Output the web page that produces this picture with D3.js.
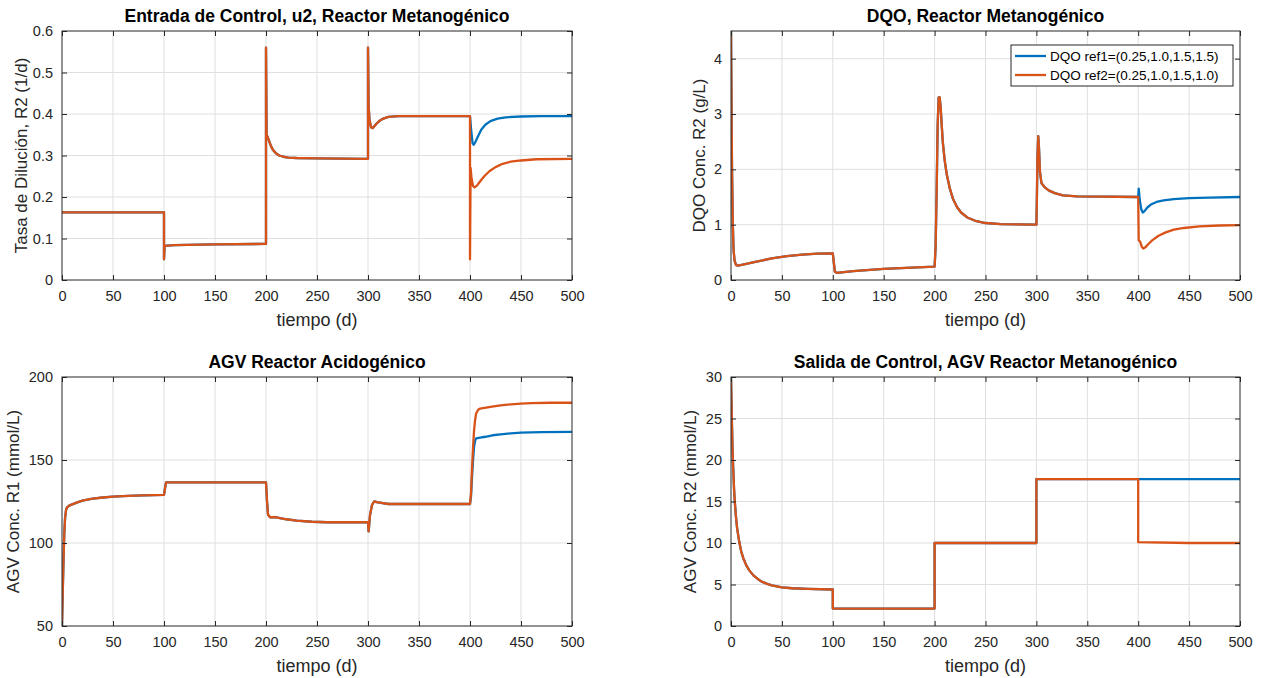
<!DOCTYPE html>
<html>
<head>
<meta charset="utf-8">
<script src="https://cdn.jsdelivr.net/npm/d3@7"></script>
<style>
  body { margin: 0; background: #fff; }
  svg text { font-family: "Liberation Sans", Arial, sans-serif; }
  .tick text { fill: #262626; font-size: 14.5px; }
</style>
</head>
<body>
<div id="chart"></div>
<script>
// *** time samples are [tiempo (d), value]; both runs coincide until t = 400
var xTicks = [0, 50, 100, 150, 200, 250, 300, 350, 400, 450, 500];

// Entrada de Control u2 (1/d)
var u2Common = [[0,0.163],[100,0.163],[100,0.05],[100.6,0.082],[110,0.084],[150,0.086],[200,0.087],
  [200,0.56],[200.6,0.35],[201.5,0.345],[203,0.335],[205,0.322],[207,0.313],[210,0.305],[213,0.3],
  [217,0.297],[222,0.295],[230,0.294],[250,0.293],[300,0.292],
  [300,0.56],[300.6,0.42],[301.5,0.385],[303,0.368],[304.5,0.366],[306,0.37],[308,0.376],[311,0.383],
  [315,0.389],[320,0.393],[330,0.395],[400,0.395]];
var u2Ref1 = [[400,0.395],[401,0.365],[402.5,0.33],[403.5,0.326],[405,0.331],[408,0.347],[411,0.362],
  [415,0.374],[420,0.383],[427,0.389],[435,0.392],[450,0.394],[470,0.395],[500,0.395]];
var u2Ref2 = [[400,0.395],[400,0.05],[400.6,0.27],[401.5,0.245],[403,0.226],[404.5,0.223],[407,0.228],
  [410,0.238],[414,0.25],[419,0.262],[425,0.272],[432,0.28],[440,0.285],[450,0.288],[465,0.291],[500,0.292]];
var u2Ticks = [0, 0.1, 0.2, 0.3, 0.4, 0.5, 0.6];

// DQO reactor metanogénico (g/L)
var dqoCommon = [[0,4.5],[0.5,3.2],[1,2],[1.8,1],[2.5,0.55],[3.5,0.35],[5,0.27],[7,0.26],[15,0.29],
  [25,0.33],[40,0.39],[55,0.43],[70,0.46],[85,0.475],[100,0.48],
  [102,0.15],[104,0.13],[120,0.16],[150,0.2],[200,0.24],[201,0.6],[202,1.6],[203,2.8],[204,3.3],[205,3.3],
  [206,3.1],[207,2.8],[208,2.5],[210,2.15],[212,1.9],[215,1.65],[218,1.47],[222,1.32],[226,1.22],
  [232,1.13],[240,1.07],[250,1.03],[265,1.01],[300,1.0],
  [300.5,1.5],[301,2.2],[301.8,2.6],[302.5,2.4],[303.5,1.95],[305,1.75],[308,1.68],[312,1.62],
  [318,1.57],[326,1.53],[340,1.51],[400,1.5]];
var dqoRef1 = [[400,1.5],[400.5,1.65],[401.5,1.45],[403,1.28],[404.5,1.22],[406,1.24],[409,1.31],
  [413,1.37],[418,1.41],[425,1.44],[435,1.46],[450,1.48],[470,1.49],[500,1.5]];
var dqoRef2 = [[400,1.5],[400.5,0.72],[402,0.69],[403.5,0.6],[405,0.57],[407,0.59],[410,0.65],
  [414,0.72],[420,0.8],[427,0.86],[435,0.91],[445,0.94],[460,0.97],[480,0.985],[500,0.99]];
var dqoTicks = [0, 1, 2, 3, 4];

// AGV reactor acidogénico (mmol/L)
var agv1Common = [[0,50],[0.7,70],[1.5,90],[2.2,105],[3,115],[4,120],[5,121.5],[7,122.5],[10,123.3],
  [15,124.5],[20,125.5],[30,126.7],[40,127.4],[50,127.9],[65,128.4],[80,128.7],[100,129],
  [101,133],[102,136.5],[150,136.5],[200,136.5],[201,125],[202,117],[204,115.5],[210,115.5],[220,114.3],
  [230,113.5],[245,112.8],[260,112.5],[300,112.5],[300.6,107],[302,117],[304,123],[306,125],[310,124.5],
  [320,123.5],[400,123.5]];
var agv1Ref1 = [[400,123.5],[401,128],[402,140],[403,150],[404,158],[405,161.5],[406,163],[410,163.5],
  [415,164],[422,164.9],[430,165.5],[440,166.1],[450,166.5],[470,166.8],[500,167]];
var agv1Ref2 = [[400,123.5],[401,130],[402,145],[403,158],[404,168],[405,174],[406,178],[408,180.3],
  [410,181],[420,182],[430,182.9],[440,183.5],[450,184],[460,184.3],[480,184.5],[500,184.5]];
var agv1Ticks = [50, 100, 150, 200];

// AGV reactor metanogénico (mmol/L)
var agv2Common = [[0,30],[0.5,27],[1,24],[1.5,21.5],[2,19.5],[3,16.5],[4,14.5],[5,13],[6,11.8],[8,10.2],
  [10,9],[12,8.2],[15,7.3],[18,6.7],[22,6.1],[26,5.7],[30,5.35],[35,5.1],[40,4.9],[50,4.65],[60,4.55],
  [75,4.48],[100,4.4],[100,2.1],[150,2.1],[200,2.1],[200,10],[300,10],[300,17.7],[400,17.7]];
var agv2Ref1 = [[400,17.7],[500,17.7]];
var agv2Ref2 = [[400,17.7],[400,10.1],[450,10],[500,10]];
var agv2Ticks = [0, 5, 10, 15, 20, 25, 30];

var legendLabels = ["DQO ref1=(0.25,1.0,1.5,1.5)", "DQO ref2=(0.25,1.0,1.5,1.0)"];
var colors = ["#0072BD", "#D95319"];

var svg = d3.select("#chart").append("svg")
    .attr("width", 1264)
    .attr("height", 678);

svg.append("defs");

function panel(opt) {
    var w = opt.x1 - opt.x0, h = opt.y1 - opt.y0;
    var g = svg.append("g").attr("transform", "translate(" + opt.x0 + "," + opt.y0 + ")");

    var x = d3.scaleLinear().domain([0, 500]).range([0, w]);
    var y = d3.scaleLinear().domain(opt.ydom).range([h, 0]);

    // grid
    g.append("g").selectAll("line").data(xTicks.slice(1, -1)).enter().append("line")
        .attr("x1", function(d) { return x(d); }).attr("x2", function(d) { return x(d); })
        .attr("y1", 0).attr("y2", h)
        .attr("stroke", "#dfdfdf").attr("stroke-width", 1);
    g.append("g").selectAll("line").data(opt.yticks.filter(function(d) { return d > opt.ydom[0] && d < opt.ydom[1]; }))
        .enter().append("line")
        .attr("x1", 0).attr("x2", w)
        .attr("y1", function(d) { return y(d); }).attr("y2", function(d) { return y(d); })
        .attr("stroke", "#dfdfdf").attr("stroke-width", 1);

    var clipId = "clip" + opt.id;
    svg.select("defs").append("clipPath").attr("id", clipId)
        .append("rect").attr("width", w).attr("height", h);

    var line = d3.line().x(function(d) { return x(d[0]); }).y(function(d) { return y(d[1]); });
    var lines = g.append("g").attr("clip-path", "url(#" + clipId + ")");
    [opt.ref1, opt.ref2].forEach(function(tail, i) {
        lines.append("path")
            .datum(opt.common.concat(tail.slice(1)))
            .attr("d", line)
            .attr("fill", "none")
            .attr("stroke", colors[i])
            .attr("stroke-width", 2.3)
            .attr("stroke-linejoin", "round");
    });

    // axes, ticks inward on all four sides
    var fmt = function(d) { return String(d); };
    var xAxis = d3.axisBottom(x).tickValues(xTicks).tickSizeInner(-5).tickSizeOuter(0).tickPadding(11).tickFormat(fmt);
    var yAxis = d3.axisLeft(y).tickValues(opt.yticks).tickSizeInner(-5).tickSizeOuter(0).tickPadding(9).tickFormat(fmt);
    var gx = g.append("g").attr("transform", "translate(0," + h + ")").call(xAxis);
    var gy = g.append("g").call(yAxis);
    var gxt = g.append("g").call(d3.axisTop(x).tickValues(xTicks).tickSizeInner(-5).tickSizeOuter(0).tickFormat(""));
    var gyr = g.append("g").attr("transform", "translate(" + w + ",0)")
        .call(d3.axisRight(y).tickValues(opt.yticks).tickSizeInner(-5).tickSizeOuter(0).tickFormat(""));
    [gx, gy, gxt, gyr].forEach(function(a) {
        a.select(".domain").remove();
        a.selectAll(".tick line").attr("stroke", "#262626");
    });
    g.append("rect").attr("width", w).attr("height", h)
        .attr("fill", "none").attr("stroke", "#262626").attr("stroke-width", 1);

    g.append("text")
        .attr("x", w / 2).attr("y", -9)
        .attr("text-anchor", "middle")
        .style("font-size", "17.5px").style("font-weight", "bold").attr("fill", "#000")
        .text(opt.title);
    g.append("text")
        .attr("x", w / 2).attr("y", h + 46)
        .attr("text-anchor", "middle")
        .style("font-size", "18px").attr("fill", "#262626")
        .text("tiempo (d)");
    g.append("text")
        .attr("transform", "translate(" + opt.ylabX + "," + (h / 2) + ") rotate(-90)")
        .attr("text-anchor", "middle")
        .style("font-size", "17px").attr("fill", "#262626")
        .text(opt.ylabel);
    return g;
}

panel({id: 1, x0: 62, x1: 572, y0: 31, y1: 280, ydom: [0, 0.6], yticks: u2Ticks,
    common: u2Common, ref1: u2Ref1, ref2: u2Ref2, ylabX: -35,
    title: "Entrada de Control, u2, Reactor Metanogénico", ylabel: "Tasa de Dilución, R2 (1/d)"});

var dqoPanel = panel({id: 2, x0: 731, x1: 1240, y0: 31, y1: 280, ydom: [0, 4.5], yticks: dqoTicks,
    common: dqoCommon, ref1: dqoRef1, ref2: dqoRef2, ylabX: -26,
    title: "DQO, Reactor Metanogénico", ylabel: "DQO Conc. R2 (g/L)"});

panel({id: 3, x0: 62, x1: 572, y0: 377, y1: 626, ydom: [50, 200], yticks: agv1Ticks,
    common: agv1Common, ref1: agv1Ref1, ref2: agv1Ref2, ylabX: -43,
    title: "AGV Reactor Acidogénico", ylabel: "AGV Conc. R1 (mmol/L)"});

panel({id: 4, x0: 731, x1: 1240, y0: 377, y1: 626, ydom: [0, 30], yticks: agv2Ticks,
    common: agv2Common, ref1: agv2Ref1, ref2: agv2Ref2, ylabX: -35,
    title: "Salida de Control, AGV Reactor Metanogénico", ylabel: "AGV Conc. R2 (mmol/L)"});

// legend in the DQO panel
var lg = dqoPanel.append("g").attr("transform", "translate(280,14)");
lg.append("rect").attr("width", 222).attr("height", 41)
    .attr("fill", "#fff").attr("stroke", "#262626").attr("stroke-width", 1);
legendLabels.forEach(function(t, i) {
    var yy = 11 + i * 19;
    lg.append("line").attr("x1", 4).attr("x2", 35).attr("y1", yy).attr("y2", yy)
        .attr("stroke", colors[i]).attr("stroke-width", 2.3);
    lg.append("text").attr("x", 39).attr("y", yy + 4.5)
        .style("font-size", "13.5px").attr("fill", "#000")
        .text(t);
});
</script>
</body>
</html>
